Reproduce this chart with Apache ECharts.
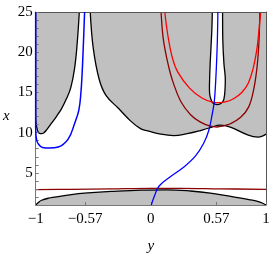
<!DOCTYPE html>
<html><head><meta charset="utf-8">
<script src="https://cdn.jsdelivr.net/npm/echarts@6/dist/echarts.min.js"></script>
<style>html,body{margin:0;padding:0;background:#fff}#c{width:273px;height:259px}</style>
</head><body><div id="c"></div>
<script>
// tick values and labels
const xTicks = [-1, -0.57, 0, 0.57, 1];
const xTickLabels = ['\u22121', '\u22120.57', '0', '0.57', '1'];
const yTicks = [5, 10, 15, 20, 25];

// left shaded region boundary (black)
const leftBoundary = [[-1,25],[-1,11.88],[-0.991,10.69],[-0.977,10.04],[-0.965,9.9],[-0.948,9.87],[-0.931,9.95],[-0.905,10.34],[-0.862,11.17],[-0.82,12.0],[-0.776,12.95],[-0.733,14.2],[-0.695,15.6],[-0.662,18.0],[-0.640,21.0],[-0.621,25]];
// right shaded region lower boundary (black)
const rightBoundary = [[-0.526,25],[-0.5,20.51],[-0.448,16.61],[-0.388,14.60],[-0.284,13.06],[-0.172,11.40],[-0.086,10.46],[-0.026,10.22],[0.086,9.81],[0.198,9.63],[0.316,9.87],[0.431,10.26],[0.517,10.63],[0.603,10.93],[0.690,10.69],[0.836,9.75],[0.931,9.45],[0.974,9.60],[1,9.81]];
// white finger inside the right region (black outline)
const finger = [[0.534,26],[0.534,25],[0.529,22.48],[0.515,18.53],[0.509,15.78],[0.511,14.8],[0.52,14.21],[0.535,13.75],[0.558,13.55],[0.578,13.5],[0.601,13.58],[0.622,13.8],[0.635,14.21],[0.644,15.3],[0.646,16.9],[0.635,18.53],[0.625,21.5],[0.623,25],[0.623,26]];
// bottom shaded region upper boundary (black)
const bottomBoundary = [[-1,1],[-0.974,1.35],[-0.948,1.59],[-0.888,1.85],[-0.836,1.98],[-0.69,2.30],[-0.546,2.50],[-0.345,2.69],[-0.086,2.86],[0.138,2.89],[0.345,2.74],[0.517,2.48],[0.716,2.0],[0.862,1.65],[0.948,1.35],[1,1]];
// red curve
const redCurve = [[0.121,25],[0.15,21.9],[0.185,19.4],[0.233,17.55],[0.336,15.54],[0.444,14.30],[0.543,13.77],[0.589,13.74],[0.647,13.81],[0.718,14.21],[0.79,14.99],[0.847,16.17],[0.891,18.14],[0.922,20.51],[0.94,22.87],[0.954,25]];
// dark red U curve
const darkRedCurve = [[0.089,25],[0.105,22],[0.125,20.2],[0.155,18.2],[0.19,16.4],[0.259,13.9],[0.345,12.23],[0.431,11.3],[0.517,10.8],[0.575,10.7],[0.632,10.85],[0.69,11.1],[0.78,11.9],[0.85,13.2],[0.895,15.5],[0.925,18.53],[0.94,21.69],[0.946,25]];
// dark red near-horizontal line
const darkRedLine = [[-1,2.91],[-0.69,2.95],[-0.345,3.01],[0,3.07],[0.259,3.07],[0.603,3.01],[1,2.95]];
// blue curves
const blueLoop = [[-1,25],[-1,10.6],[-0.993,9.2],[-0.977,8.6],[-0.94,8.15],[-0.88,8.08],[-0.804,8.21],[-0.718,9.19],[-0.661,11.17],[-0.625,12.8],[-0.608,14.8],[-0.596,17.5],[-0.587,20.5],[-0.575,25]];
const blueS = [[0.004,1],[0.028,1.98],[0.072,3.36],[0.172,4.55],[0.287,5.73],[0.388,7.11],[0.459,8.68],[0.503,10.26],[0.532,12.23],[0.552,14.0],[0.569,18.14],[0.578,21.69],[0.582,25]];

const GRAY = '#c0c0c0';
const FONT = 'Liberation Serif';

function curve(data, color, width, z, area) {
  const s = {
    type: 'line', data: data, showSymbol: false, symbol: 'none', smooth: 0.4,
    clip: true, z: z, silent: true,
    lineStyle: { color: color, width: width }
  };
  if (area) s.areaStyle = { color: GRAY, opacity: 1, origin: area };
  return s;
}

const chart = echarts.init(document.getElementById('c'), null, { renderer: 'canvas' });
const option = {
  animation: false,
  grid: { left: 34, right: 7, top: 12, bottom: 44 },
  xAxis: [{
    type: 'value', min: -1, max: 1, z: 10,
    name: 'y', nameLocation: 'middle', nameGap: 34,
    nameTextStyle: { fontFamily: FONT, fontStyle: 'italic', fontSize: 15, color: '#000' },
    axisLine: { show: true, onZero: false, lineStyle: { color: '#777', width: 1 } },
    axisTick: { show: true, inside: true, length: 3, customValues: xTicks, lineStyle: { color: '#777' } },
    axisLabel: { customValues: xTicks, fontFamily: FONT, fontSize: 15, color: '#000', margin: 7,
      formatter: function (v) { const i = xTicks.indexOf(v); return i >= 0 ? xTickLabels[i] : ''; } },
    splitLine: { show: false }
  }, {
    type: 'value', min: -1, max: 1, position: 'top', z: 10,
    axisLine: { show: true, onZero: false, lineStyle: { color: '#555', width: 1 } },
    axisTick: { show: false }, axisLabel: { show: false }, splitLine: { show: false }
  }],
  yAxis: [{
    type: 'value', min: 1, max: 25, interval: 1, z: 10,
    name: 'x', nameLocation: 'middle', nameGap: 26, nameRotate: 0,
    nameTextStyle: { fontFamily: FONT, fontStyle: 'italic', fontSize: 15, color: '#000', verticalAlign: 'top' },
    axisLine: { show: true, onZero: false, lineStyle: { color: '#777', width: 1 } },
    axisTick: { show: true, inside: true, length: 3, lineStyle: { color: '#777' } },
    axisLabel: { fontFamily: FONT, fontSize: 15, color: '#000', margin: 3,
      formatter: function (v) { return yTicks.indexOf(v) >= 0 ? String(v) : ''; } },
    splitLine: { show: false }
  }, {
    type: 'value', min: 1, max: 25, position: 'right', z: 10,
    axisLine: { show: true, onZero: false, lineStyle: { color: '#555', width: 1 } },
    axisTick: { show: false }, axisLabel: { show: false }, splitLine: { show: false }
  }],
  series: [
    curve(leftBoundary, '#000', 1.3, 2, 'end'),
    curve(rightBoundary, '#000', 1.3, 2, 'end'),
    curve(bottomBoundary, '#000', 1.3, 2, 'start'),
    {
      type: 'custom', coordinateSystem: 'cartesian2d', data: [[0, 13]], z: 3, clip: true, silent: true,
      renderItem: function (params, api) {
        return {
          type: 'polygon',
          shape: { points: finger.map(function (p) { return api.coord(p); }), smooth: 0.3 },
          style: { fill: '#fff', stroke: '#000', lineWidth: 1.3 }
        };
      }
    },
    curve(darkRedLine, '#8b0000', 1.3, 5),
    curve(darkRedCurve, '#8b0000', 1.3, 5),
    curve(redCurve, '#ff0000', 1.3, 5),
    curve(blueLoop, '#0000ff', 1.5, 12),
    curve(blueS, '#0000ff', 1.3, 12)
  ]
};
chart.setOption(option);
</script></body></html>
